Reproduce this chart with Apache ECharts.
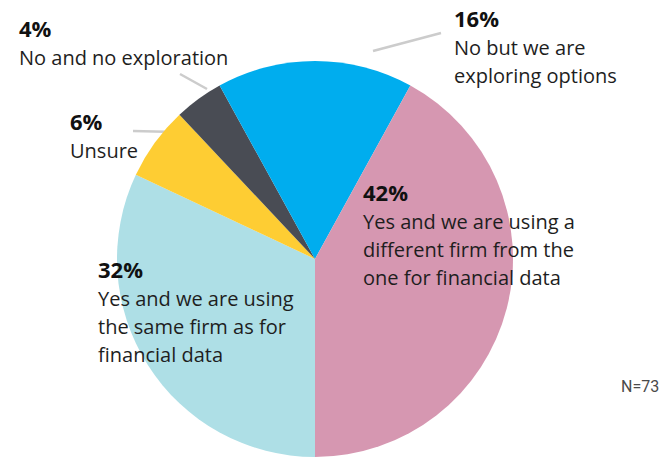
<!DOCTYPE html>
<html>
<head>
<meta charset="utf-8">
<script src="https://cdn.jsdelivr.net/npm/echarts@6/dist/echarts.min.js"></script>
<style>
  html, body { margin: 0; padding: 0; background: #fff; }
  #chart { width: 663px; height: 458px; }
</style>
</head>
<body>
<div id="chart"></div>
<script>
(function() {
  // slices in clockwise order, starting at 6 o'clock
  var categories = [
    'Yes and we are using\nthe same firm as for\nfinancial data',
    'Unsure',
    'No and no exploration',
    'No but we are\nexploring options',
    'Yes and we are using a\ndifferent firm from the\none for financial data'
  ];
  var shares = [32, 6, 4, 16, 42];
  var sampleNote = 'N=73';

  var colors = ['#aedfe6', '#fecd33', '#494c54', '#00adee', '#d697b1'];
  // label top-left corners, same order as categories
  var labelPos = [[98, 254], [70, 106], [19, 13], [454, 3], [363, 177]];
  // short grey leader lines
  var leaders = [
    [[133, 131], [176, 132]],
    [[180, 74], [207, 89]],
    [[373, 51], [441, 33]]
  ];

  var chart = echarts.init(document.getElementById('chart'), null, { renderer: 'svg' });

  var data = categories.map(function(name, i) {
    return { name: name, value: shares[i], itemStyle: { color: colors[i] } };
  });

  var graphics = leaders.map(function(l) {
    return {
      type: 'line',
      shape: { x1: l[0][0], y1: l[0][1], x2: l[1][0], y2: l[1][1] },
      style: { stroke: '#cccccc', lineWidth: 2.5 }
    };
  });
  graphics.push({
    type: 'text',
    left: 621,
    top: 378,
    style: { text: sampleNote, fill: '#4a4a4a', fontSize: 16, fontFamily: 'Roboto' }
  });

  chart.setOption({
    animation: false,
    series: [{
      type: 'pie',
      center: [315, 259],
      radius: 198,
      startAngle: -90,
      clockwise: true,
      silent: true,
      data: data,
      labelLine: { show: false },
      label: {
        show: true,
        position: 'inside',
        overflow: 'none',
        formatter: function(p) {
          var lines = p.name.split('\n').map(function(s) { return '{t|' + s + '}'; });
          return '{p|' + p.value + '%}\n' + lines.join('\n');
        },
        rich: {
          p: { fontFamily: 'Open Sans', fontWeight: 'bold', fontSize: 22, lineHeight: 30, color: '#111' },
          t: { fontFamily: 'Open Sans', fontSize: 20, lineHeight: 28, color: '#1e1e1e' }
        }
      },
      labelLayout: function(params) {
        var pos = labelPos[params.dataIndex];
        return { x: pos[0], y: pos[1], align: 'left', verticalAlign: 'top' };
      }
    }],
    graphic: graphics
  });
  window.addEventListener('resize', function() { chart.resize(); });
})();
</script>
</body>
</html>
